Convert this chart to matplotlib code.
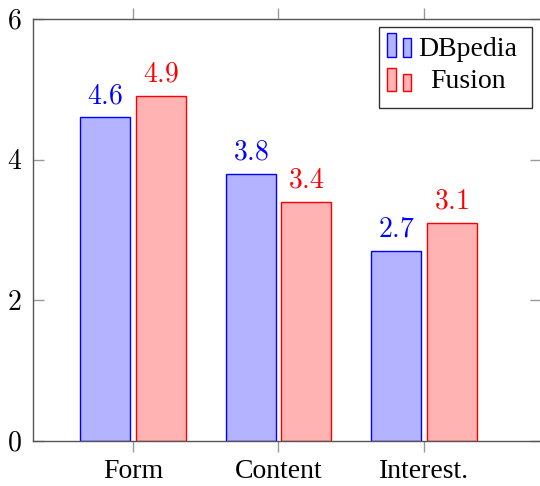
import matplotlib
matplotlib.use("Agg")
import matplotlib.pyplot as plt
from matplotlib.patches import Rectangle
import numpy as np

categories = ["Form", "Content", "Interest."]
dbpedia = [4.6, 3.8, 2.7]
fusion = [4.9, 3.4, 3.1]
series_names = ["DBpedia", "Fusion"]
yticks = [0, 2, 4, 6]

plt.rcParams['font.family'] = 'serif'
plt.rcParams['font.serif'] = ['Liberation Serif', 'DejaVu Serif']
plt.rcParams['mathtext.fontset'] = 'cm'

fig = plt.figure(figsize=(5.4, 4.86), dpi=100)
ax = fig.add_axes([33/540, 1-440.7/486, 508/540, 421.7/486])

x = np.arange(len(categories))
w = 0.344
off = 0.19
blue_fill, red_fill = '#B3B3FF', '#FFB3B3'
ax.bar(x - off, dbpedia, w, color=blue_fill, edgecolor='blue', linewidth=1.0, zorder=2)
ax.bar(x + off, fusion, w, color=red_fill, edgecolor='red', linewidth=1.0, zorder=2)

for xi, v in zip(x - off, dbpedia):
    ax.annotate(f'${v}$', (xi, v), xytext=(0, 6), textcoords='offset points',
                ha='center', va='bottom', color='blue', fontsize=20)
for xi, v in zip(x + off, fusion):
    ax.annotate(f'${v}$', (xi, v), xytext=(0, 6), textcoords='offset points',
                ha='center', va='bottom', color='red', fontsize=20)

ax.set_xlim(-0.687, 2.804)
ax.set_ylim(0, 6)
ax.set_xticks(x)
ax.set_xticklabels(categories, fontsize=20)
ax.set_yticks(yticks)
ax.set_yticklabels([f'${t}$' for t in yticks], fontsize=20)

for s in ax.spines.values():
    s.set_color('#555555')
    s.set_linewidth(1.0)

ax.tick_params(axis='x', direction='out', length=8, width=1, color='#999999',
               top=True, bottom=True, pad=5)
ax.tick_params(axis='y', direction='in', length=8, width=1, color='#999999',
               left=True, right=True, pad=8)

def fx(px):
    return (px - 33) / 508
def fy(py):
    return (440.7 - py) / 421.7

ax.add_patch(Rectangle((fx(379), fy(107.7)), fx(531.7) - fx(379), fy(26.7) - fy(107.7),
                       transform=ax.transAxes, facecolor='white', edgecolor='#333333',
                       linewidth=1.0, zorder=5))
ax.add_patch(Rectangle((fx(387), fy(57)), fx(396) - fx(387), fy(33) - fy(57),
                       transform=ax.transAxes, facecolor=blue_fill, edgecolor='blue', linewidth=1, zorder=6))
ax.add_patch(Rectangle((fx(403), fy(57)), fx(411) - fx(403), fy(38) - fy(57),
                       transform=ax.transAxes, facecolor=blue_fill, edgecolor='blue', linewidth=1, zorder=6))
ax.add_patch(Rectangle((fx(387), fy(90.7)), fx(396) - fx(387), fy(68.3) - fy(90.7),
                       transform=ax.transAxes, facecolor=red_fill, edgecolor='red', linewidth=1, zorder=6))
ax.add_patch(Rectangle((fx(403), fy(90.7)), fx(411) - fx(403), fy(74) - fy(90.7),
                       transform=ax.transAxes, facecolor=red_fill, edgecolor='red', linewidth=1, zorder=6))
ax.text(fx(467.5), fy(49.3), series_names[0], transform=ax.transAxes, ha='center', va='center',
        fontsize=20, zorder=7)
ax.text(fx(468.5), fy(81.7), series_names[1], transform=ax.transAxes, ha='center', va='center',
        fontsize=20, zorder=7)

fig.savefig('out.png', dpi=100)
